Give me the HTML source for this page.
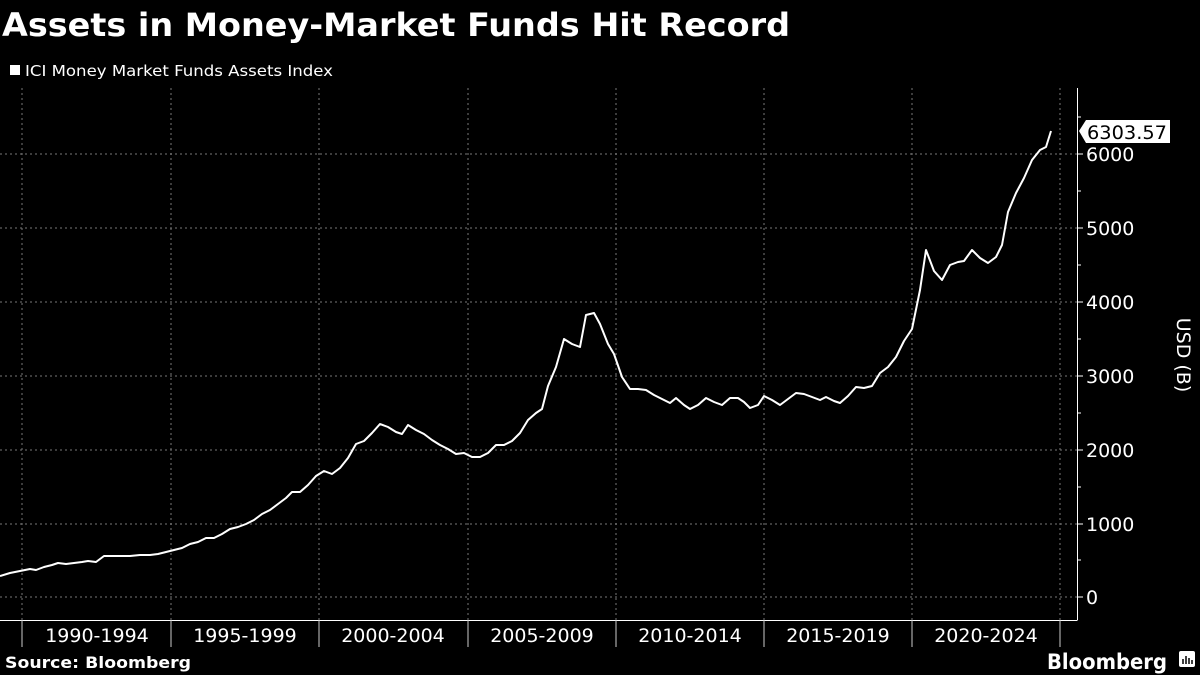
<!DOCTYPE html>
<html><head><meta charset="utf-8"><style>
html,body{margin:0;padding:0;background:#000;width:1200px;height:675px;overflow:hidden;font-family:"DejaVu Sans",sans-serif;color:#fff}
</style></head><body>
<svg width="1200" height="675" xmlns="http://www.w3.org/2000/svg" font-family="DejaVu Sans, sans-serif">
<rect width="1200" height="675" fill="#000"/>
<text x="2" y="36" font-size="32" font-weight="bold" fill="#fff" textLength="788" lengthAdjust="spacingAndGlyphs">Assets in Money-Market Funds Hit Record</text>
<rect x="10" y="65" width="10" height="10" fill="#fff"/>
<text x="25" y="76" font-size="15" fill="#fff" textLength="308" lengthAdjust="spacingAndGlyphs">ICI Money Market Funds Assets Index</text>
<g stroke="#777" stroke-width="1" stroke-dasharray="2,3">
<line x1="22" y1="88" x2="22" y2="620"/><line x1="171" y1="88" x2="171" y2="620"/><line x1="319" y1="88" x2="319" y2="620"/><line x1="468" y1="88" x2="468" y2="620"/><line x1="616" y1="88" x2="616" y2="620"/><line x1="764" y1="88" x2="764" y2="620"/><line x1="912" y1="88" x2="912" y2="620"/><line x1="1060" y1="88" x2="1060" y2="620"/>
<line x1="0" y1="597" x2="1077" y2="597"/><line x1="0" y1="524" x2="1077" y2="524"/><line x1="0" y1="450" x2="1077" y2="450"/><line x1="0" y1="376" x2="1077" y2="376"/><line x1="0" y1="302" x2="1077" y2="302"/><line x1="0" y1="228" x2="1077" y2="228"/><line x1="0" y1="154" x2="1077" y2="154"/>
</g>
<g stroke="#ccc" stroke-width="1">
<line x1="0" y1="620.5" x2="1077" y2="620.5" stroke="#fff"/>
<line x1="1077.5" y1="88" x2="1077.5" y2="620.5" stroke="#fff"/>
<line x1="22" y1="620" x2="22" y2="647"/><line x1="171" y1="620" x2="171" y2="647"/><line x1="319" y1="620" x2="319" y2="647"/><line x1="468" y1="620" x2="468" y2="647"/><line x1="616" y1="620" x2="616" y2="647"/><line x1="764" y1="620" x2="764" y2="647"/><line x1="912" y1="620" x2="912" y2="647"/><line x1="1060" y1="620" x2="1060" y2="647"/>
</g>
<g stroke="#fff">
<line x1="1077" y1="597" x2="1083" y2="597"/><line x1="1077" y1="524" x2="1083" y2="524"/><line x1="1077" y1="450" x2="1083" y2="450"/><line x1="1077" y1="376" x2="1083" y2="376"/><line x1="1077" y1="302" x2="1083" y2="302"/><line x1="1077" y1="228" x2="1083" y2="228"/><line x1="1077" y1="154" x2="1083" y2="154"/>
<line x1="1077" y1="560" x2="1081" y2="560"/><line x1="1077" y1="487" x2="1081" y2="487"/><line x1="1077" y1="413" x2="1081" y2="413"/><line x1="1077" y1="339" x2="1081" y2="339"/><line x1="1077" y1="265" x2="1081" y2="265"/><line x1="1077" y1="191" x2="1081" y2="191"/><line x1="1077" y1="117" x2="1081" y2="117"/>
</g>
<g fill="#fff" font-size="19">
<text x="1086" y="604">0</text><text x="1086" y="531">1000</text><text x="1086" y="457">2000</text><text x="1086" y="383">3000</text><text x="1086" y="309">4000</text><text x="1086" y="235">5000</text><text x="1086" y="161">6000</text>
</g>
<g fill="#fff" font-size="19" text-anchor="middle">
<text x="97" y="642">1990-1994</text><text x="245" y="642">1995-1999</text><text x="393" y="642">2000-2004</text><text x="542" y="642">2005-2009</text><text x="690" y="642">2010-2014</text><text x="838" y="642">2015-2019</text><text x="986" y="642">2020-2024</text>
</g>
<text transform="translate(1177,355) rotate(90)" fill="#fff" font-size="19" text-anchor="middle">USD (B)</text>
<polyline fill="none" stroke="#fff" stroke-width="2" stroke-linejoin="round" points="0,576 10,573 20,571 30,569 36,570 44,567 52,565 58,563 66,564 74,563 82,562 88,561 96,562 104,556 112,556 120,556 130,556 140,555 150,555 158,554 166,552 174,550 182,548 190,544 198,542 206,538 214,538 222,534 230,529 238,527 246,524 254,520 262,514 270,510 278,504 286,498 292,492 300,492 308,485 316,476 324,471 332,474 340,468 348,458 356,444 364,441 372,433 380,424 388,427 396,432 402,434 408,425 416,430 424,434 432,440 440,445 448,449 456,454 464,453 472,457 480,457 488,453 496,445 504,445 512,441 520,433 528,420 536,413 542,409 548,386 556,367 564,339 572,344 580,347 586,315 594,313 600,324 608,344 614,354 622,377 630,389 638,389 646,390 654,395 662,399 670,403 676,398 684,405 690,409 698,405 706,398 714,402 722,405 730,398 738,398 744,402 750,408 758,405 764,396 772,400 780,405 788,399 796,393 804,394 812,397 820,400 826,397 834,401 840,403 848,396 856,387 864,388 872,386 880,373 888,367 896,357 904,341 912,329 920,290 926,250 934,271 942,280 950,265 958,262 964,261 972,250 980,258 988,263 996,257 1002,245 1008,212 1016,193 1024,178 1032,160 1040,150 1046,147 1051,131"/>
<polygon points="1079,131 1086,120 1170,120 1170,143 1086,143" fill="#fff"/>
<text x="1087" y="139" font-size="19" fill="#000" textLength="80" lengthAdjust="spacingAndGlyphs">6303.57</text>
<text x="5" y="668" font-size="16" font-weight="bold" fill="#fff" textLength="186" lengthAdjust="spacingAndGlyphs">Source: Bloomberg</text>
<text x="1047" y="669" font-size="21" font-weight="bold" fill="#fff" textLength="120" lengthAdjust="spacingAndGlyphs">Bloomberg</text>
<rect x="1179" y="651" width="16" height="16" rx="2" fill="#fff"/>
<g stroke="#000" stroke-width="1.5"><line x1="1183" y1="664" x2="1183" y2="659"/><line x1="1186" y1="664" x2="1186" y2="656"/><line x1="1189" y1="664" x2="1189" y2="658"/><line x1="1192" y1="664" x2="1192" y2="660"/></g>
</svg>
</body></html>
